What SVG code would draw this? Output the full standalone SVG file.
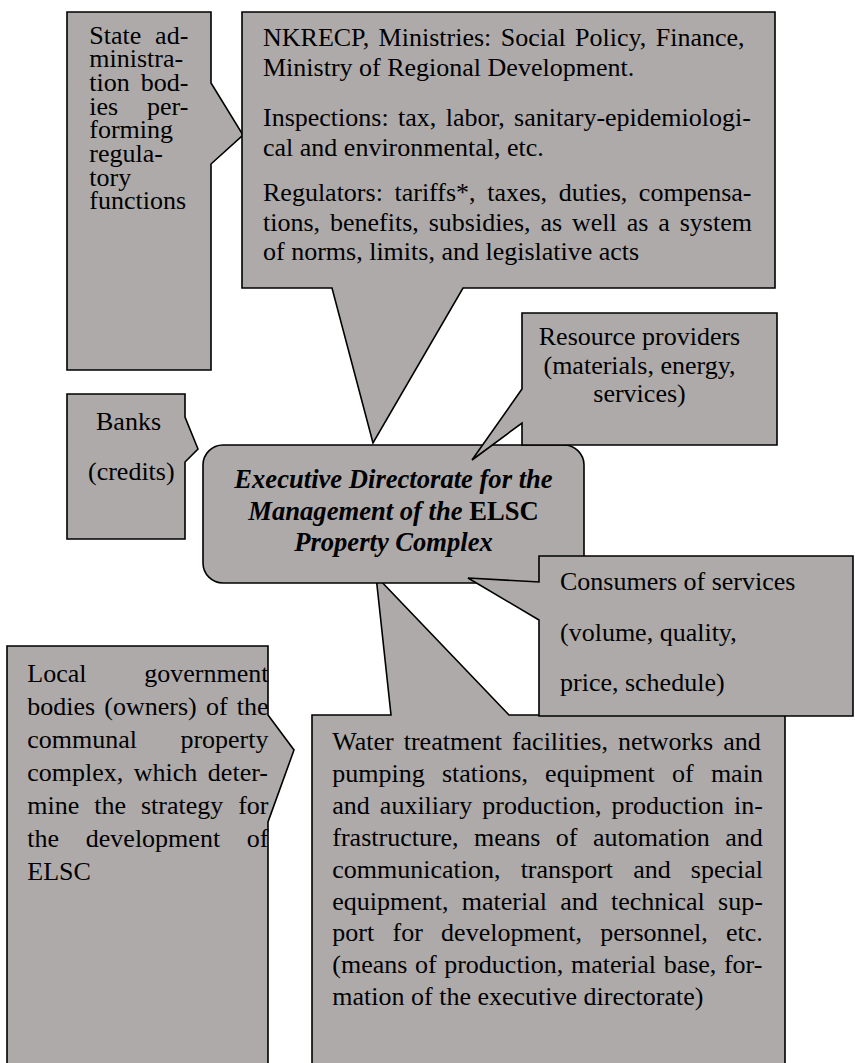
<svg xmlns="http://www.w3.org/2000/svg" width="855" height="1063" viewBox="0 0 855 1063">
  <style>
    .box { fill: #AEAAAA; stroke: #000; stroke-width: 1.6; stroke-linejoin: miter; }
    .t { font-family: "Liberation Serif", "Times New Roman", serif; font-size: 26px; fill: #000; }
    .hub { font-family: "Liberation Serif", "Times New Roman", serif; font-size: 26.6px; font-weight: bold; font-style: italic; fill: #000; }
    .up { font-style: normal; }
    .end { text-anchor: end; }
    .mid { text-anchor: middle; }
  </style>
  <rect width="855" height="1063" fill="#fff"/>

  <!-- callout tails are drawn as part of each shape outline -->
  <g id="connectors"></g>

  <!-- State administration bodies -->
  <g id="state-bodies">
    <path class="box" d="M67,12 H211 V83 L243,135 L211,164 V370 H67 Z"/>
    <text class="t" x="89.3" y="43.5">State</text>
    <text class="t end" x="188.3" y="43.5">ad-</text>
    <text class="t" x="89.3" y="67.2">ministra-</text>
    <text class="t" x="89.3" y="90.9">tion</text>
    <text class="t end" x="188.3" y="90.9">bod-</text>
    <text class="t" x="89.3" y="114.6">ies</text>
    <text class="t end" x="188.3" y="114.6">per-</text>
    <text class="t" x="89.3" y="138.3">forming</text>
    <text class="t" x="89.3" y="162">regula-</text>
    <text class="t" x="89.3" y="185.7">tory</text>
    <text class="t" x="89.3" y="209.4">functions</text>
  </g>

  <!-- Regulators and ministries -->
  <g id="regulators">
    <path class="box" d="M242,12 H775 V288 H463 L373,443 L332,288 H242 Z"/>
    <text class="t" x="263" y="46" word-spacing="2.9">NKRECP, Ministries: Social Policy, Finance,</text>
    <text class="t" x="263" y="75.5">Ministry of Regional Development.</text>
    <text class="t" x="263" y="126" word-spacing="2.93">Inspections: tax, labor, sanitary-epidemiologi-</text>
    <text class="t" x="263" y="155.5">cal and environmental, etc.</text>
    <text class="t" x="263" y="201" word-spacing="5.09">Regulators: tariffs*, taxes, duties, compensa-</text>
    <text class="t" x="263" y="230.5" word-spacing="3.41">tions, benefits, subsidies, as well as a system</text>
    <text class="t" x="263" y="260">of norms, limits, and legislative acts</text>
  </g>

  <!-- Banks -->
  <g id="banks">
    <path class="box" d="M67,394 H185 V417 L198,449 L185,462 V539 H67 Z"/>
    <text class="t" x="96" y="430">Banks</text>
    <text class="t" x="88" y="480">(credits)</text>
  </g>

  <!-- Local government bodies -->
  <g id="local-government">
    <path class="box" d="M7,646 H268 V715 L294,750 L268,822 V1070 H7 Z"/>
    <text class="t" x="27.3" y="682">Local</text>
    <text class="t end" x="268.5" y="682">government</text>
    <text class="t" x="27.3" y="715" word-spacing="2.67">bodies (owners) of the</text>
    <text class="t" x="27.3" y="748">communal</text>
    <text class="t end" x="268.5" y="748">property</text>
    <text class="t" x="27.3" y="781" word-spacing="4">complex, which deter-</text>
    <text class="t" x="27.3" y="814" word-spacing="8.43">mine the strategy for</text>
    <text class="t" x="27.3" y="847" word-spacing="20.25">the development of</text>
    <text class="t" x="27.3" y="880">ELSC</text>
  </g>

  <!-- Production assets -->
  <g id="production-assets">
    <path class="box" d="M312,715 H391 L376,576 L509,715 H785 V1070 H312 Z"/>
    <text class="t" x="332.3" y="750" word-spacing="3.5">Water treatment facilities, networks and</text>
    <text class="t" x="332.3" y="781.9" word-spacing="10.7">pumping stations, equipment of main</text>
    <text class="t" x="332.3" y="813.8" word-spacing="3.5">and auxiliary production, production in-</text>
    <text class="t" x="332.3" y="845.7" word-spacing="8.9">frastructure, means of automation and</text>
    <text class="t" x="332.3" y="877.6" word-spacing="13.6">communication, transport and special</text>
    <text class="t" x="332.3" y="909.5" word-spacing="6.75">equipment, material and technical sup-</text>
    <text class="t" x="332.3" y="941.4" word-spacing="11.8">port for development, personnel, etc.</text>
    <text class="t" x="332.3" y="973.3" word-spacing="1.08">(means of production, material base, for-</text>
    <text class="t" x="332.3" y="1005.2">mation of the executive directorate)</text>
  </g>

  <!-- Executive Directorate (hub) -->
  <g id="executive-directorate">
    <rect class="box" x="203" y="445" width="381" height="138" rx="20" ry="20"/>
    <text class="hub mid" x="393.5" y="488">Executive Directorate for the</text>
    <text class="hub mid" x="393.5" y="520">Management of the <tspan class="up">ELSC</tspan></text>
    <text class="hub mid" x="393.5" y="551">Property Complex</text>
  </g>

  <!-- Resource providers -->
  <g id="resource-providers">
    <path class="box" d="M522,313 H777 V445 H522 V423 L472,460 L522,389 Z"/>
    <text class="t mid" x="639.5" y="345">Resource providers</text>
    <text class="t mid" x="639.5" y="373.5">(materials, energy,</text>
    <text class="t mid" x="639.5" y="402">services)</text>
  </g>

  <!-- Consumers of services -->
  <g id="consumers">
    <path class="box" d="M539,556 H853 V716 H539 V620 L468,578 L539,582 Z"/>
    <text class="t" x="560" y="590">Consumers of services</text>
    <text class="t" x="560" y="640.5">(volume, quality,</text>
    <text class="t" x="560" y="691">price, schedule)</text>
  </g>
</svg>
